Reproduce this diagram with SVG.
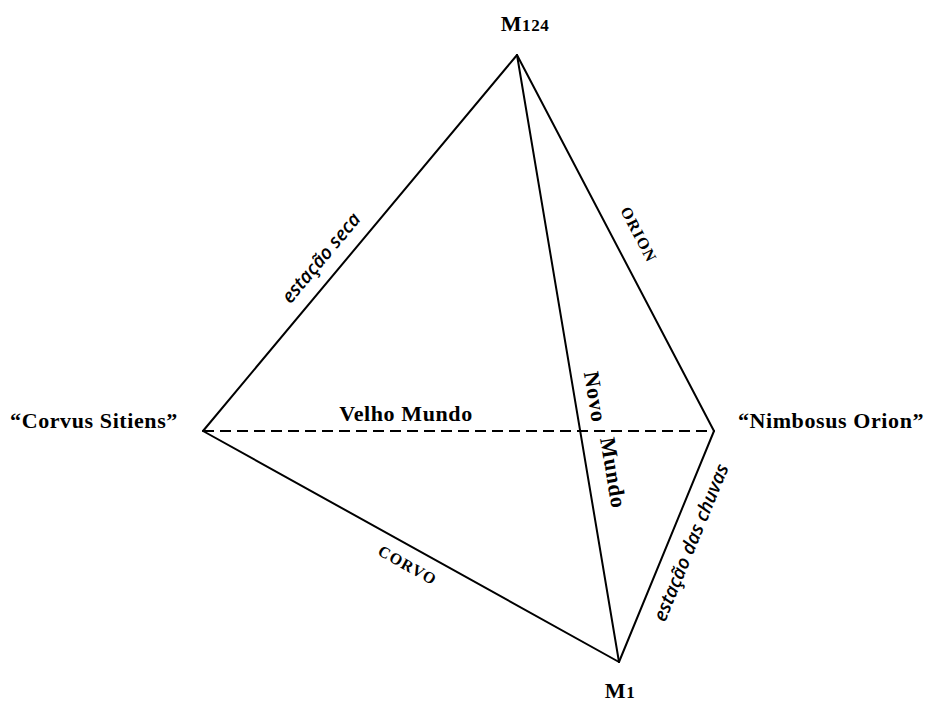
<svg xmlns="http://www.w3.org/2000/svg" width="926" height="702" viewBox="0 0 926 702">
<style>
.ln{stroke:#000;stroke-width:2;fill:none;stroke-linecap:round}
.dash{stroke:#000;stroke-width:2;fill:none;stroke-dasharray:11,6}
.lbl{font-family:"Liberation Serif","DejaVu Serif",serif;font-weight:bold;font-size:22px;letter-spacing:0.6px;fill:#000}
.it{font-family:"Open Sans","Noto Sans",sans-serif;font-style:italic;font-weight:600;font-size:19px;fill:#000}
.sc{font-family:"Liberation Serif","DejaVu Serif",serif;font-weight:bold;font-size:16px;letter-spacing:1.2px;fill:#000}
</style>
<rect width="926" height="702" fill="#fff"/>
<g id="connectors">
<line class="ln" x1="517" y1="55" x2="203" y2="431"/>
<line class="ln" x1="517" y1="55" x2="714" y2="431"/>
<line class="ln" x1="517" y1="55" x2="619" y2="662"/>
<line class="ln" x1="203" y1="431" x2="619" y2="662"/>
<line class="ln" x1="714" y1="431" x2="619" y2="662"/>
<line class="dash" x1="203" y1="431" x2="714" y2="431"/>
<text class="it" transform="translate(326,262) rotate(-50.1)" text-anchor="middle">estação seca</text>
<text class="sc" transform="translate(634,237) rotate(62.4)" text-anchor="middle">ORION</text>
<text class="sc" transform="translate(405,570) rotate(29)" text-anchor="middle">CORVO</text>
<text class="it" transform="translate(697,545) rotate(-67.6)" text-anchor="middle">estação das chuvas</text>
<text class="lbl" x="406" y="421" text-anchor="middle">Velho Mundo</text>
<text class="lbl" transform="translate(588,398) rotate(80.5)" text-anchor="middle">Novo</text>
<text class="lbl" transform="translate(606,474) rotate(80.5)" text-anchor="middle">Mundo</text>
</g>
<g id="M124"><text class="lbl" x="525" y="31" text-anchor="middle">M<tspan font-size="17">124</tspan></text></g>
<g id="M1"><text class="lbl" x="620" y="698" text-anchor="middle">M<tspan font-size="17">1</tspan></text></g>
<g id="CorvusSitiens"><text class="lbl" x="94" y="428" text-anchor="middle">“Corvus Sitiens”</text></g>
<g id="NimbosusOrion"><text class="lbl" x="831" y="428" text-anchor="middle">“Nimbosus Orion”</text></g>
</svg>
